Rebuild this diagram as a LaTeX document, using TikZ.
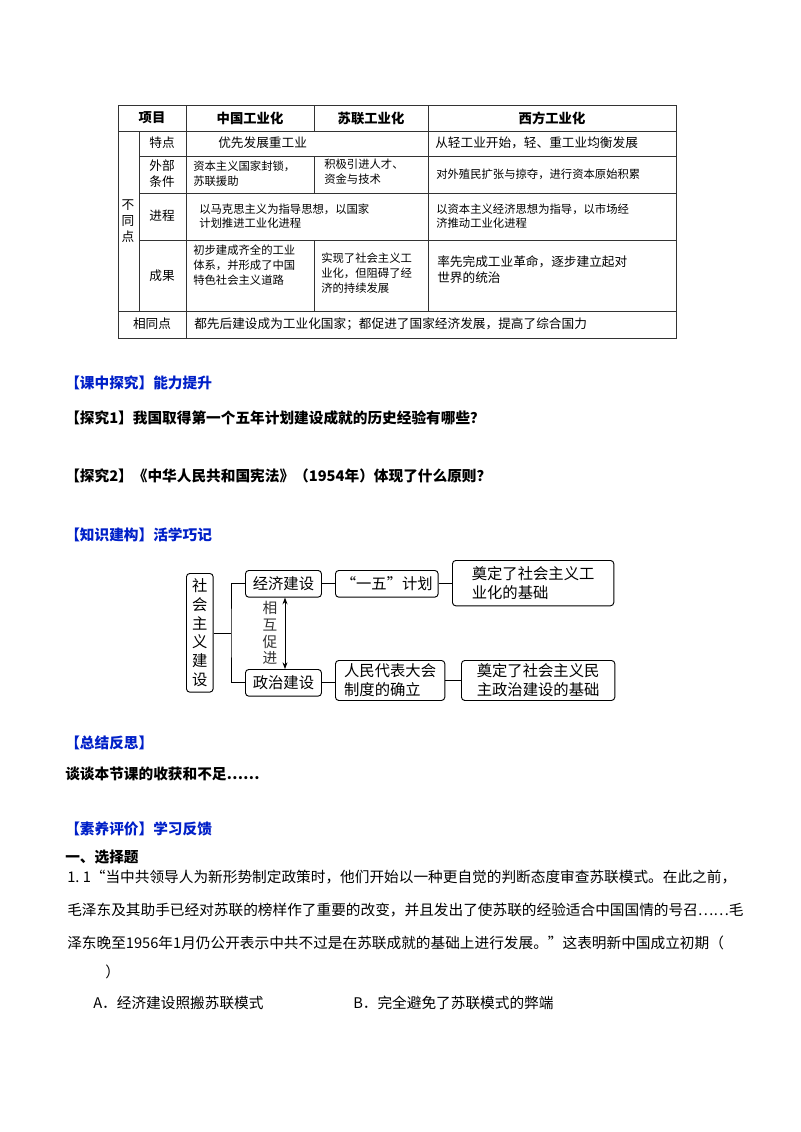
\documentclass[tikz,border=0pt]{standalone}
\usepackage{fontspec}
\setmainfont{Noto Sans CJK SC}
\usetikzlibrary{arrows.meta}
\definecolor{hblue}{RGB}{0,32,200}
\tikzset{
 tline/.style={line width=0.6pt,draw=black!80},
 tt/.style={font=\fontsize{9.5pt}{12pt}\selectfont,align=left,inner sep=0pt},
 th/.style={font=\fontsize{10pt}{12pt}\selectfont\bfseries,inner sep=0pt},
 box/.style={draw,line width=0.7pt,rounded corners=2.5pt,font=\fontsize{11.5pt}{14pt}\selectfont,align=left,inner sep=1pt},
 conn/.style={line width=0.7pt},
 body/.style={font=\fontsize{11pt}{13pt}\selectfont,anchor=west,inner sep=0pt},
 bhead/.style={font=\fontsize{11pt}{13pt}\selectfont\bfseries,anchor=west,inner sep=0pt,text=hblue},
 bbold/.style={font=\fontsize{11pt}{13pt}\selectfont\bfseries,anchor=west,inner sep=0pt},
}
\begin{document}
\begin{tikzpicture}[x=0.75pt,y=-0.75pt]
\useasboundingbox[fill=white] (0,0) rectangle (800,1132);
% table
\draw[tline] (118,105) rectangle (676,338);
\foreach \y in {131,311} \draw[tline] (118,\y) -- (676,\y);
\foreach \y in {156,193,240} \draw[tline] (139,\y) -- (676,\y);
\draw[tline] (139,131) -- (139,311);
\draw[tline] (186,105) -- (186,338);
\draw[tline] (314,105) -- (314,131);
\draw[tline] (314,156) -- (314,193);
\draw[tline] (314,240) -- (314,311);
\draw[tline] (428,105) -- (428,311);
\node[th] (h0) at (152,118) {项目};
\node[th] (h1) at (250,118) {中国工业化};
\node[th] (h2) at (371,118) {苏联工业化};
\node[th] (h3) at (552,118) {西方工业化};
\node[tt,align=center] (bt) at (128,221) {不\\同\\点};
\node[tt] (r1) at (162,143) {特点};
\node[tt,align=center] (r2) at (162,174) {外部\\条件};
\node[tt] (r3) at (162,216) {进程};
\node[tt] (r4) at (162,276) {成果};
\node[tt] (r5) at (152,324) {相同点};
\node[tt,anchor=west] (c11) at (218,143) {优先发展重工业};
\node[tt,anchor=west] (c13) at (435,143) {从轻工业开始，轻、重工业均衡发展};
\node[tt,anchor=west,font=\fontsize{8.5pt}{11pt}\selectfont] (c21) at (193,174) {资本主义国家封锁，\\苏联援助};
\node[tt,anchor=west,font=\fontsize{8.5pt}{11pt}\selectfont] (c22) at (324,172) {积极引进人才、\\资金与技术};
\node[tt,anchor=west,font=\fontsize{8.5pt}{11pt}\selectfont] (c23) at (436,174) {对外殖民扩张与掠夺，进行资本原始积累};
\node[tt,anchor=west,font=\fontsize{8.5pt}{11pt}\selectfont] (c31) at (199,216) {以马克思主义为指导思想，以国家\\计划推进工业化进程};
\node[tt,anchor=west,font=\fontsize{8.5pt}{11pt}\selectfont] (c33) at (436,216) {以资本主义经济思想为指导，以市场经\\济推动工业化进程};
\node[tt,anchor=west,font=\fontsize{8.5pt}{11pt}\selectfont] (c41) at (193,265) {初步建成齐全的工业\\体系，并形成了中国\\特色社会主义道路};
\node[tt,anchor=west,font=\fontsize{8.5pt}{11pt}\selectfont] (c42) at (321,273) {实现了社会主义工\\业化，但阻碍了经\\济的持续发展};
\node[tt,anchor=west] (c43) at (437,270) {率先完成工业革命，逐步建立起对\\世界的统治};
\node[tt,anchor=west] (c51) at (194,324) {都先后建设成为工业化国家；都促进了国家经济发展，提高了综合国力};
% headings
\node[bhead] (k1) at (65,383) {【课中探究】能力提升};
\node[bbold] (k2) at (65,418) {【探究1】我国取得第一个五年计划建设成就的历史经验有哪些？};
\node[bbold] (k3) at (65,476) {【探究2】《中华人民共和国宪法》（1954年）体现了什么原则？};
\node[bhead] (k4) at (65,535) {【知识建构】活学巧记};
% diagram
\node[box,minimum width=20,align=center,minimum height=89,anchor=north west] (s) at (186,573) {社\\会\\主\\义\\建\\设};
\node[box,minimum width=57,minimum height=20,anchor=north west] (e) at (245,570) {经济建设};
\node[box,minimum width=57,minimum height=20,anchor=north west] (p) at (245,669) {政治建设};
\node[box,minimum width=77,minimum height=20,anchor=north west] (y) at (335,570) {“一五”计划};
\node[box,minimum width=121,minimum height=34,anchor=north west] (g1) at (452,560) {奠定了社会主义工\\业化的基础};
\node[box,minimum width=82,minimum height=30,anchor=north west] (r) at (335,660) {人民代表大会\\制度的确立};
\node[box,minimum width=115,minimum height=30,anchor=north west] (g2) at (461,660) {奠定了社会主义民\\主政治建设的基础};
\coordinate (bm) at (231,633);
\coordinate (ax) at (285,633);
\draw[conn] (s.east |- bm) -- (bm);
\draw[conn] (e.west) -| (bm) |- (p.west);
\draw[conn] (e) -- (y);
\draw[conn] (y) -- (g1.west |- y);
\draw[conn] (p) -- (p -| r.west);
\draw[conn] (r) -- (g2);
\draw[conn,{Stealth[length=5pt]}-{Stealth[length=5pt]}] (e.south -| ax) -- (p.north -| ax);
\node[font=\fontsize{11pt}{12.5pt}\selectfont,align=center,inner sep=0pt,text=black!80] (m) at (270,633) {相\\互\\促\\进};
% lower
\node[bhead] (k5) at (65,743) {【总结反思】};
\node[bbold] (k6) at (65,774) {谈谈本节课的收获和不足……};
\node[bhead] (k7) at (65,829) {【素养评价】学习反馈};
\node[bbold] (k8) at (65,857) {一、选择题};
\node[body] (q1) at (67,877) {1.\ 1“当中共领导人为新形势制定政策时，他们开始以一种更自觉的判断态度审查苏联模式。在此之前，};
\node[body] (q2) at (67,910) {毛泽东及其助手已经对苏联的榜样作了重要的改变，并且发出了使苏联的经验适合中国国情的号召……毛};
\node[body] (q3) at (67,943) {泽东晚至1956年1月仍公开表示中共不过是在苏联成就的基础上进行发展。”这表明新中国成立初期（};
\node[body] (q4) at (105,972) {）};
\node[body] (qa) at (93,1003) {A．经济建设照搬苏联模式};
\node[body] (qb) at (353,1003) {B．完全避免了苏联模式的弊端};
\end{tikzpicture}
\end{document}
